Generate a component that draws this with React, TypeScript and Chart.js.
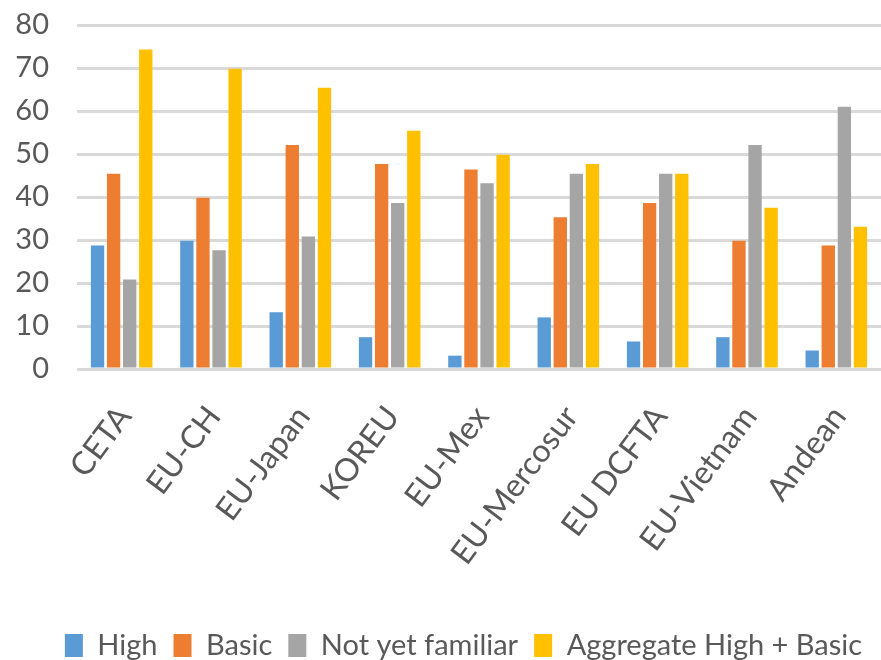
import React, { useRef, useEffect } from 'react';
import { Chart, registerables, ChartData, ChartOptions, Plugin } from 'chart.js';

Chart.register(...registerables);

const agreements = ['CETA', 'EU-CH', 'EU-Japan', 'KOREU', 'EU-Mex', 'EU-Mercosur', 'EU DCFTA', 'EU-Vietnam', 'Andean'];
const high = [28.7, 29.8, 13.2, 7.4, 3.1, 12.0, 6.4, 7.4, 4.3];
const basic = [45.4, 39.8, 52.1, 47.7, 46.4, 35.3, 38.6, 29.8, 28.7];
const notYetFamiliar = [20.8, 27.6, 30.8, 38.6, 43.2, 45.4, 45.4, 52.1, 61.0];
const aggregate = [74.3, 69.8, 65.4, 55.4, 49.8, 47.7, 45.4, 37.5, 33.1];

const FONT = 'Lato, "Noto Sans", sans-serif';
const TEXT = '#595959';

// nudge the legend down/right to where the original puts it
const legendShift: Plugin<'bar'> = {
  id: 'legendShift',
  afterLayout: (chart) => {
    const lg: any = chart.legend;
    if (!lg) return;
    lg.top += 10;
    lg.bottom += 10;
    lg.left += 15;
    lg.right += 15;
  },
};

const App = () => {
  const chartRef = useRef<HTMLCanvasElement>(null);

  useEffect(() => {
    document.body.style.margin = '0';
    const ctx = chartRef.current?.getContext('2d');
    if (!ctx) return;

    const bar = (label: string, data: number[], color: string) => ({
      label,
      data,
      backgroundColor: color,
      borderWidth: 0,
      categoryPercentage: 0.72,
      barPercentage: 0.83,
    });

    const data: ChartData<'bar', number[], string> = {
      labels: agreements,
      datasets: [
        bar('High', high, '#5B9BD5'),
        bar('Basic', basic, '#ED7D31'),
        bar('Not yet familiar', notYetFamiliar, '#A5A5A5'),
        bar('Aggregate High + Basic', aggregate, '#FFC000'),
      ],
    };

    const options: ChartOptions<'bar'> = {
      responsive: true,
      maintainAspectRatio: false,
      animation: false,
      layout: {
        padding: { left: 16, right: 0, top: 25, bottom: 0 },
      },
      scales: {
        x: {
          grid: { display: false },
          border: { display: false },
          ticks: {
            color: TEXT,
            font: { family: FONT, size: 32 },
            maxRotation: 53,
            minRotation: 53,
            autoSkip: false,
            padding: 22,
            labelOffset: 3,
          },
          afterFit: (scale: any) => {
            scale.height = 236;
            scale.paddingLeft = 0;
            scale.paddingRight = 0;
          },
        },
        y: {
          min: 0,
          max: 80,
          border: { display: false },
          grid: { color: '#D9D9D9', lineWidth: 3, drawTicks: false },
          ticks: {
            stepSize: 10,
            autoSkip: false,
            color: TEXT,
            font: { family: FONT, size: 29 },
            padding: 28,
          },
          afterFit: (scale: any) => {
            scale.width = 61;
            scale.paddingTop = 0;
            scale.paddingBottom = 0;
          },
        },
      },
      plugins: {
        legend: {
          position: 'bottom',
          labels: {
            color: TEXT,
            font: { family: FONT, size: 29 },
            boxWidth: 18,
            boxHeight: 23,
            padding: 16,
          },
        },
        tooltip: { enabled: false },
      },
    };

    const myChart = new Chart(ctx, { type: 'bar', data, options, plugins: [legendShift] });

    return () => {
      myChart.destroy();
    };
  }, []);

  return (
    <div style={{ position: 'relative', width: '881px', height: '660px' }}>
      <canvas ref={chartRef}></canvas>
    </div>
  );
};

export default App;
